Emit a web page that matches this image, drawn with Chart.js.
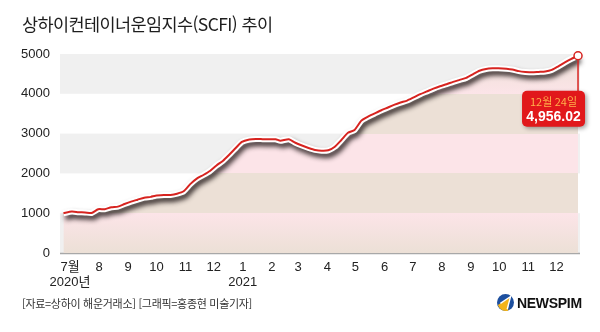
<!DOCTYPE html>
<html lang="ko">
<head>
<meta charset="utf-8">
<script src="https://cdn.jsdelivr.net/npm/chart.js@4.4.1/dist/chart.umd.min.js"></script>
<style>
    html, body { margin: 0; padding: 0; background: #fff; }
    #wrap { position: relative; width: 600px; height: 332px; overflow: hidden; }
    #grafico { position: absolute; left: 0; top: 0; }
    .titulo {
        position: absolute; left: 22px; top: 12px;
        font-family: "Noto Sans CJK KR", sans-serif; font-size: 17.5px; color: #1e1e1e;
        letter-spacing: -0.6px; line-height: 24px;
    }
    .fuente {
        position: absolute; left: 22px; top: 295px;
        font-family: "Noto Sans CJK KR", sans-serif; font-size: 11px; color: #333;
        letter-spacing: -0.3px; line-height: 16px;
    }
    .logo { position: absolute; left: 497px; top: 294px; display: flex; align-items: center; }
    .logo span {
        font-family: "Liberation Sans", sans-serif; font-weight: bold; font-size: 14px;
        color: #111; margin-left: 3px; letter-spacing: -0.3px;
    }
</style>
</head>
<body>
<div id="wrap">
    <canvas id="grafico" width="600" height="332"></canvas>
    <div class="titulo">상하이컨테이너운임지수(SCFI) 추이</div>
    <div class="fuente">[자료=상하이 해운거래소] [그래픽=홍종현 미술기자]</div>
    <div class="logo">
        <svg width="17" height="17" viewBox="0 0 20 20">
            <circle cx="10" cy="10" r="10" fill="#1d4f9e"/>
            <path d="M1 13 A10 10 0 0 0 13 19.6 L15 4 Z" fill="#f4b41a"/>
            <path d="M4 11 L16 3 L12 18" fill="none" stroke="#fff" stroke-width="1.6"/>
        </svg>
        <span>NEWSPIM</span>
    </div>
</div>
<script>
// 주간 SCFI
const fechas = [
    "2020-06-24", "2020-07-03", "2020-07-10", "2020-07-17", "2020-07-24", "2020-07-31",
    "2020-08-07", "2020-08-14", "2020-08-21", "2020-08-28", "2020-09-04", "2020-09-11",
    "2020-09-18", "2020-09-25", "2020-09-30", "2020-10-09", "2020-10-16", "2020-10-23",
    "2020-10-30", "2020-11-06", "2020-11-13", "2020-11-20", "2020-11-27", "2020-12-04",
    "2020-12-11", "2020-12-18", "2020-12-25", "2020-12-31", "2021-01-08", "2021-01-15",
    "2021-01-22", "2021-01-29", "2021-02-05", "2021-02-10", "2021-02-19", "2021-02-26",
    "2021-03-05", "2021-03-12", "2021-03-19", "2021-03-26", "2021-04-02", "2021-04-09",
    "2021-04-16", "2021-04-23", "2021-04-30", "2021-05-07", "2021-05-14", "2021-05-21",
    "2021-05-28", "2021-06-04", "2021-06-11", "2021-06-18", "2021-06-25", "2021-07-02",
    "2021-07-09", "2021-07-16", "2021-07-23", "2021-07-30", "2021-08-06", "2021-08-13",
    "2021-08-20", "2021-08-27", "2021-09-03", "2021-09-10", "2021-09-17", "2021-09-24",
    "2021-09-30", "2021-10-15", "2021-10-22", "2021-10-29", "2021-11-05", "2021-11-12",
    "2021-11-19", "2021-11-26", "2021-12-03", "2021-12-10", "2021-12-17", "2021-12-24"
];
const scfi = [
    1000, 1040, 1025, 1020, 1005, 1100,
    1100, 1150, 1165, 1230, 1290, 1340,
    1390, 1410, 1440, 1455, 1460, 1490,
    1550, 1730, 1870, 1960, 2060, 2200,
    2320, 2480, 2650, 2790, 2850, 2865,
    2860, 2855, 2860, 2820, 2860, 2770,
    2700, 2640, 2590, 2570, 2580, 2670,
    2840, 3020, 3090, 3320, 3420, 3500,
    3580, 3650, 3720, 3780, 3830, 3910,
    3990, 4060, 4130, 4190, 4240, 4300,
    4350, 4400, 4490, 4580, 4625, 4640,
    4640, 4610, 4570, 4550, 4540, 4550,
    4560, 4600, 4690, 4790, 4880, 4956.02
];
const mesesTicks = [
    "2020-07-01", "2020-08-01", "2020-09-01", "2020-10-01", "2020-11-01", "2020-12-01",
    "2021-01-01", "2021-02-01", "2021-03-01", "2021-04-01", "2021-05-01", "2021-06-01",
    "2021-07-01", "2021-08-01", "2021-09-01", "2021-10-01", "2021-11-01", "2021-12-01"
];
const mesesLabels = [
    ["7월", "2020년"], "8", "9", "10", "11", "12",
    ["1", "2021"], "2", "3", "4", "5", "6", "7", "8", "9", "10", "11", "12"
];
const yTicks = [0, 1000, 2000, 3000, 4000, 5000];
const ultimaFecha = "12월 24일";
const ultimoValor = "4,956.02";

const BASE = Date.parse("2020-07-01");
const dia = (s) => (Date.parse(s) - BASE) / 86400000;
const puntos = fechas.map((f, i) => ({ x: dia(f), y: scfi[i] }));
const ultimo = puntos.length - 1;

const ROJO = "#d7231f";
const GRIS = "#f0f0f0";
const BEIGE = "#ece0d6";
const ROSA = "#fce4e8";

// Relleno por franjas (beige sobre gris, rosa sobre blanco)
function rellenoFranjas(c) {
    const { chart } = c;
    const area = chart.chartArea;
    if (!area) return BEIGE;
    const y = chart.scales.y;
    const g = chart.ctx.createLinearGradient(0, area.top, 0, area.bottom);
    const h = area.bottom - area.top;
    for (let i = 0; i < yTicks.length - 1; i++) {
        const p0 = (y.getPixelForValue(yTicks[i + 1]) - area.top) / h;
        const p1 = (y.getPixelForValue(yTicks[i]) - area.top) / h;
        const col = i % 2 === 0 ? BEIGE : ROSA;
        g.addColorStop(Math.max(0, Math.min(1, p0)), col);
        g.addColorStop(Math.max(0, Math.min(1, p1)), col);
    }
    return g;
}

const pluginFondo = {
    id: "fondo",
    beforeDatasetsDraw(chart) {
        const { ctx, chartArea: a, scales: { x, y } } = chart;
        ctx.save();
        ctx.fillStyle = GRIS;
        for (let i = 0; i < yTicks.length - 1; i += 2) {
            const t = y.getPixelForValue(yTicks[i + 1]);
            const b = y.getPixelForValue(yTicks[i]);
            ctx.fillRect(a.left, t, a.right - a.left, b - t);
        }
        // eje x y marcas
        ctx.strokeStyle = "#a8a8a8";
        ctx.lineWidth = 1.5;
        ctx.beginPath();
        ctx.moveTo(a.left, a.bottom + 0.5);
        ctx.lineTo(a.right, a.bottom + 0.5);
        ctx.stroke();
        ctx.lineWidth = 1;
        x.ticks.forEach((t) => {
            const px = Math.round(x.getPixelForValue(t.value)) + 0.5;
            ctx.beginPath();
            ctx.moveTo(px, a.bottom - 4);
            ctx.lineTo(px, a.bottom);
            ctx.stroke();
        });
        ctx.restore();
    },
    beforeDatasetDraw(chart, args) {
        if (args.index !== 1) return;
        const ctx = chart.ctx;
        ctx.save();
        ctx.shadowColor = "rgba(25,15,15,0.85)";
        ctx.shadowBlur = 5;
        ctx.shadowOffsetX = 2;
        ctx.shadowOffsetY = 4;
    },
    afterDatasetDraw(chart, args) {
        if (args.index !== 1) return;
        chart.ctx.restore();
    },
    afterDatasetsDraw(chart) {
        const { ctx } = chart;
        const p = chart.getDatasetMeta(2).data[ultimo];
        const bx = p.x - 56, by = p.y + 35, bw = 63, bh = 36;
        ctx.save();
        ctx.strokeStyle = ROJO;
        ctx.lineWidth = 1.5;
        ctx.beginPath();
        ctx.moveTo(p.x, p.y + 4.5);
        ctx.lineTo(p.x, by + 2);
        ctx.stroke();
        ctx.shadowColor = "rgba(0,0,0,0.35)";
        ctx.shadowBlur = 4;
        ctx.shadowOffsetX = 2;
        ctx.shadowOffsetY = 2;
        ctx.fillStyle = "#e1181b";
        ctx.beginPath();
        ctx.roundRect(bx, by, bw, bh, 5);
        ctx.fill();
        ctx.shadowColor = "transparent";
        ctx.textAlign = "center";
        ctx.textBaseline = "middle";
        ctx.fillStyle = "#ffb14a";
        ctx.font = "11px 'Noto Sans CJK KR', sans-serif";
        ctx.fillText(ultimaFecha, bx + bw / 2, by + 11);
        ctx.fillStyle = "#fff";
        ctx.font = "bold 14px 'Liberation Sans', sans-serif";
        ctx.fillText(ultimoValor, bx + bw / 2, by + 26);
        ctx.restore();
    }
};

new Chart(document.getElementById("grafico"), {
    type: "line",
    data: {
        datasets: [{
            data: puntos,
            fill: "origin",
            backgroundColor: rellenoFranjas,
            borderWidth: 0,
            pointRadius: 0,
            order: 3,
        }, {
            data: puntos,
            fill: false,
            borderColor: "#fff",
            borderWidth: 6,
            pointRadius: 0,
            tension: 0.2,
            clip: false,
            order: 2,
        }, {
            data: puntos,
            fill: false,
            borderColor: ROJO,
            borderWidth: 2,
            tension: 0.2,
            clip: false,
            pointRadius: (c) => c.dataIndex === ultimo ? 4 : 0,
            pointBackgroundColor: "#fff",
            pointBorderColor: ROJO,
            pointBorderWidth: 1.5,
            order: 1,
        }, ],
    },
    options: {
        responsive: false,
        animation: false,
        events: [],
        layout: { padding: { top: 54, right: 20, bottom: 39, left: 0 } },
        plugins: { legend: { display: false }, tooltip: { enabled: false } },
        scales: {
            x: {
                type: "linear",
                min: -10.65,
                max: 543.1,
                grid: { display: false, drawTicks: false },
                border: { display: false },
                afterBuildTicks: (s) => { s.ticks = mesesTicks.map((m) => ({ value: dia(m) })); },
                afterFit: (s) => { s.height = 40; },
                ticks: {
                    autoSkip: false,
                    maxRotation: 0,
                    padding: 7,
                    color: "#222",
                    font: { family: "'Liberation Sans', 'Noto Sans CJK KR', sans-serif", size: 13, lineHeight: 1.15 },
                    callback: (v, i) => mesesLabels[i],
                },
            },
            y: {
                min: 0,
                max: 5000,
                grid: { display: false, drawTicks: false },
                border: { display: false },
                afterBuildTicks: (s) => { s.ticks = yTicks.map((v) => ({ value: v })); },
                afterFit: (s) => { s.width = 60; },
                ticks: {
                    padding: 10,
                    color: "#222",
                    font: { family: "'Liberation Sans', sans-serif", size: 13 },
                    callback: (v) => String(v),
                },
            },
        },
    },
    plugins: [pluginFondo],
});
</script>
</body>
</html>
